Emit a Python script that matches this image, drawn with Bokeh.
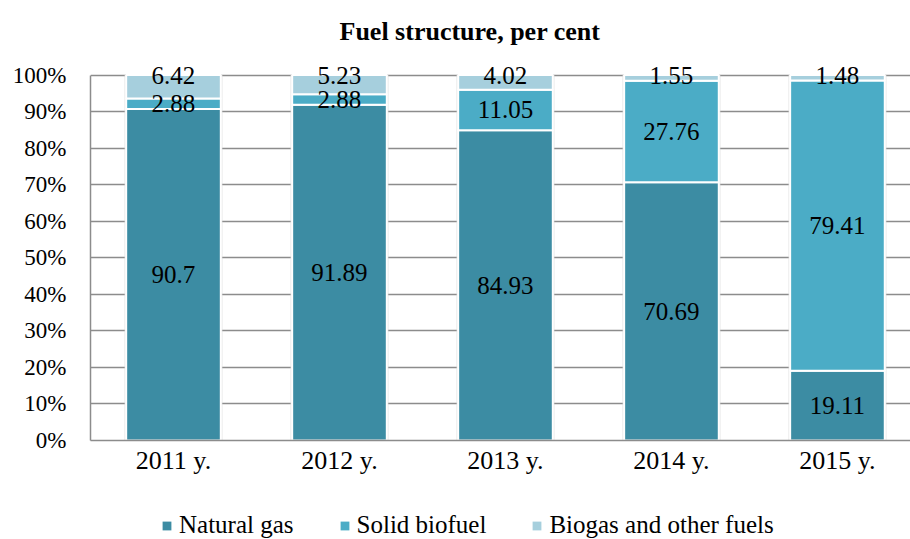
from bokeh.plotting import figure
from bokeh.layouts import column
from bokeh.models import ColumnDataSource, Range1d, FixedTicker, PrintfTickFormatter, Legend, LegendItem
from bokeh.embed import file_html
from bokeh.resources import INLINE

# ---- data ----
years = ["2011 y.", "2012 y.", "2013 y.", "2014 y.", "2015 y."]
natural_gas = [90.7, 91.89, 84.93, 70.69, 19.11]
solid_biofuel = [2.88, 2.88, 11.05, 27.76, 79.41]
biogas_other = [6.42, 5.23, 4.02, 1.55, 1.48]
series_names = ["Natural gas", "Solid biofuel", "Biogas and other fuels"]
y_ticks = [0, 10, 20, 30, 40, 50, 60, 70, 80, 90, 100]

colors = ["#3c8ca3", "#4bacc6", "#a6cfdd"]
FONT = "Liberation Serif, serif"

xs = list(range(len(years)))
series = [natural_gas, solid_biofuel, biogas_other]

p = figure(width=910, height=500, output_backend="svg", toolbar_location=None,
           x_range=Range1d(-0.5, 4.44), y_range=Range1d(0, 104),
           min_border_left=90, min_border_right=0, min_border_top=59, min_border_bottom=60)
p.outline_line_color = None
p.background_fill_color = "white"
p.border_fill_color = "white"

# title
p.title.text = "Fuel structure, per cent"
p.title.text_font = FONT
p.title.text_font_style = "bold"
p.title.text_font_size = "26px"
p.title.text_color = "black"
p.title.align = "left"
p.title.offset = 249
p.title.standoff = 29

# faint shadow behind bars
totals = [a + b + c for a, b, c in zip(natural_gas, solid_biofuel, biogas_other)]
p.vbar(x=xs, top=totals, bottom=0, width=0.59, fill_color="#dcdcdc", line_color=None, fill_alpha=0.8)

bottoms = [0.0] * len(years)
label_x, label_y, label_t = [], [], []
for k, (name, vals, col) in enumerate(zip(series_names, series, colors)):
    tops = [b + v for b, v in zip(bottoms, vals)]
    src = ColumnDataSource(dict(x=xs, bottom=bottoms, top=tops))
    p.vbar(x="x", bottom="bottom", top="top", width=0.57, source=src,
           fill_color=col, line_color="white", line_width=2)
    for i, v in enumerate(vals):
        label_x.append(xs[i])
        # the last (top) series is labelled at the top end of its segment
        label_y.append(tops[i] if k == len(series) - 1 else bottoms[i] + v / 2)
        label_t.append(str(v))
    bottoms = tops

p.text(x=label_x, y=label_y, text=label_t, text_align="center", text_baseline="middle",
       text_font_size="25px", text_font={"value": FONT}, text_color="black")

# axes
p.xaxis.ticker = FixedTicker(ticks=xs)
p.xaxis.major_label_overrides = {i: y for i, y in enumerate(years)}
p.yaxis.ticker = FixedTicker(ticks=y_ticks)
p.yaxis.formatter = PrintfTickFormatter(format="%d%%")
p.yaxis.bounds = (0, 100)
for ax in (p.xaxis, p.yaxis):
    ax.axis_line_color = "#8c8c8c"
    ax.axis_line_width = 1.5
    ax.major_tick_line_color = None
    ax.minor_tick_line_color = None
    ax.major_tick_out = 0
    ax.major_tick_in = 0
    ax.major_label_text_font = FONT
    ax.major_label_text_color = "black"
p.xaxis.major_label_text_font_size = "26px"
p.yaxis.major_label_text_font_size = "23px"
p.xaxis.major_label_standoff = 5
p.yaxis.major_label_standoff = 24

p.xgrid.grid_line_color = None
p.ygrid.ticker = FixedTicker(ticks=y_ticks)
p.ygrid.grid_line_color = "#8c8c8c"
p.ygrid.grid_line_width = 1.5

# legend strip (its renderers hold the series but lie outside its visible range)
p2 = figure(width=910, height=39, output_backend="svg", toolbar_location=None,
            x_range=Range1d(-60, -59), y_range=Range1d(-2000, -1999), min_border=0)
p2.outline_line_color = None
p2.xaxis.visible = False
p2.yaxis.visible = False
p2.xgrid.grid_line_color = None
p2.ygrid.grid_line_color = None
items = []
for name, vals, col in zip(series_names, series, colors):
    r = p2.vbar(x=xs, top=vals, bottom=0, width=0.5, fill_color=col, line_color=None)
    items.append(LegendItem(label=name, renderers=[r]))
legend = Legend(items=items, orientation="horizontal", location=(71, 0))
legend.label_text_font = FONT
legend.label_text_font_size = "25px"
legend.label_text_color = "black"
legend.glyph_width = 11
legend.glyph_height = 11
legend.spacing = 45
legend.label_standoff = 7
legend.border_line_color = None
legend.background_fill_alpha = 0
legend.margin = 0
legend.padding = 0
p2.add_layout(legend, "center")

layout = column(p, p2, spacing=0)
open("out.html", "w").write(file_html(layout, INLINE))
